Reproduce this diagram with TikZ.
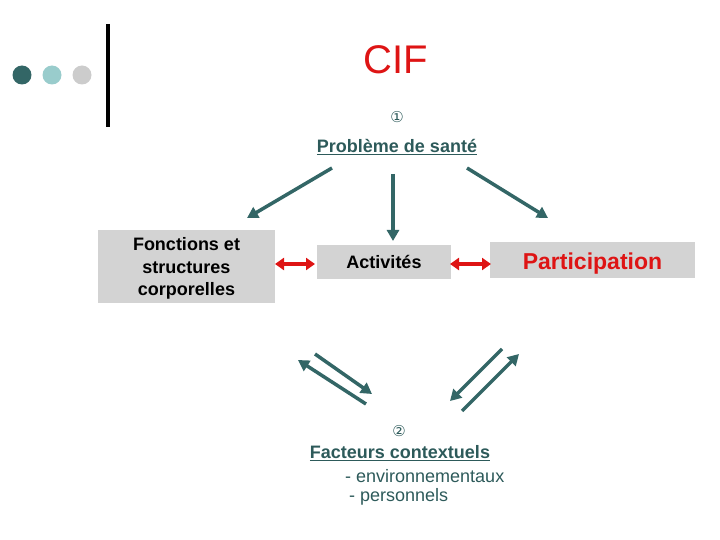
\documentclass[tikz,border=0pt]{standalone}
\usepackage{fontspec}
\setmainfont{Liberation Sans}
\newfontfamily\symfont{DejaVu Sans}
\usetikzlibrary{arrows.meta,calc}
\definecolor{teal1}{RGB}{51,102,102}
\definecolor{tealtxt}{RGB}{45,90,90}
\definecolor{lteal}{RGB}{153,204,204}
\definecolor{dotgray}{RGB}{204,204,204}
\definecolor{boxgray}{RGB}{211,211,211}
\definecolor{cifred}{RGB}{222,20,20}
\tikzset{
  tarrow/.style={draw=teal1,line width=3.5pt,-{Triangle[length=11pt,width=12pt]}},
  rarrow/.style={draw=cifred,line width=3.5pt,{Triangle[length=9pt,width=12pt]}-{Triangle[length=9pt,width=12pt]}},
  gbox/.style={fill=boxgray,draw=none,inner sep=0pt},
  bt/.style={font=\fontsize{18}{22.5}\selectfont\bfseries,align=center},
  tt/.style={text=tealtxt,font=\fontsize{18}{22}\selectfont},
}
\begin{document}
\begin{tikzpicture}[x=1pt,y=-1pt]
\path[use as bounding box] (0,0) rectangle (720,540);
% decoration
\fill[teal1] (22,75) circle (9.5);
\fill[lteal] (52,75) circle (9.5);
\fill[dotgray] (82,75) circle (9.5);
\draw[black,line width=4pt] (108,24) -- (108,127);
% title
\node[text=cifred,font=\fontsize{40}{44}\selectfont] (cif) at (396,60) {CIF};
\node[text=tealtxt,font=\symfont\fontsize{15}{17}\selectfont] (n1) at (397,117) {①};
\node[tt,font=\fontsize{18}{22}\selectfont\bfseries] (ps) at (397,147) {\underline{Problème de santé}};
% boxes
\node[gbox,minimum width=177pt,minimum height=73pt] (fs) at (186.5,266.5) {};
\node[bt] (fst) at (186.5,268.5) {Fonctions et\\structures\\corporelles};
\node[gbox,minimum width=134pt,minimum height=34pt] (act) at (384,262) {};
\node[bt] (actt) at (act.center) {Activités};
\node[gbox,minimum width=205pt,minimum height=36pt] (par) at (592.5,260) {};
\node[text=cifred,font=\fontsize{23}{26}\selectfont\bfseries] (part) at (592.5,263.5) {Participation};
% top arrows
\coordinate (a1s) at (332,168); \coordinate (a1e) at (247,218);
\coordinate (a2s) at (393,174); \coordinate (a2e) at (393,241);
\coordinate (a3s) at (467,168); \coordinate (a3e) at (548,218);
\draw[tarrow] (a1s) -- (a1e);
\draw[tarrow] (a2s) -- (a2e);
\draw[tarrow] (a3s) -- (a3e);
% red arrows
\coordinate (r1s) at (275,264); \coordinate (r1e) at (315,264);
\coordinate (r2s) at (450,264); \coordinate (r2e) at (491,264);
\draw[rarrow] (r1s) -- (r1e);
\draw[rarrow] (r2s) -- (r2e);
% bottom arrows
\coordinate (b1s) at (366,404); \coordinate (b1e) at (298,360);
\coordinate (b2s) at (315,354); \coordinate (b2e) at (372,394);
\coordinate (b3s) at (502,349); \coordinate (b3e) at (450,401);
\coordinate (b4s) at (462,411); \coordinate (b4e) at (519,354);
\draw[tarrow] (b1s) -- (b1e);
\draw[tarrow] (b2s) -- (b2e);
\draw[tarrow] (b3s) -- (b3e);
\draw[tarrow] (b4s) -- (b4e);
% contextual factors
\node[text=tealtxt,font=\symfont\fontsize{15}{17}\selectfont] (n2) at (399,431) {②};
\node[tt,font=\fontsize{18}{22}\selectfont\bfseries] (fc) at (400,453) {\underline{Facteurs contextuels}};
\node[tt,anchor=west,inner sep=0pt] (env) at (345,476) {- environnementaux};
\node[tt,anchor=west,inner sep=0pt] (pers) at (349,497) {- personnels};
\end{tikzpicture}
\end{document}
